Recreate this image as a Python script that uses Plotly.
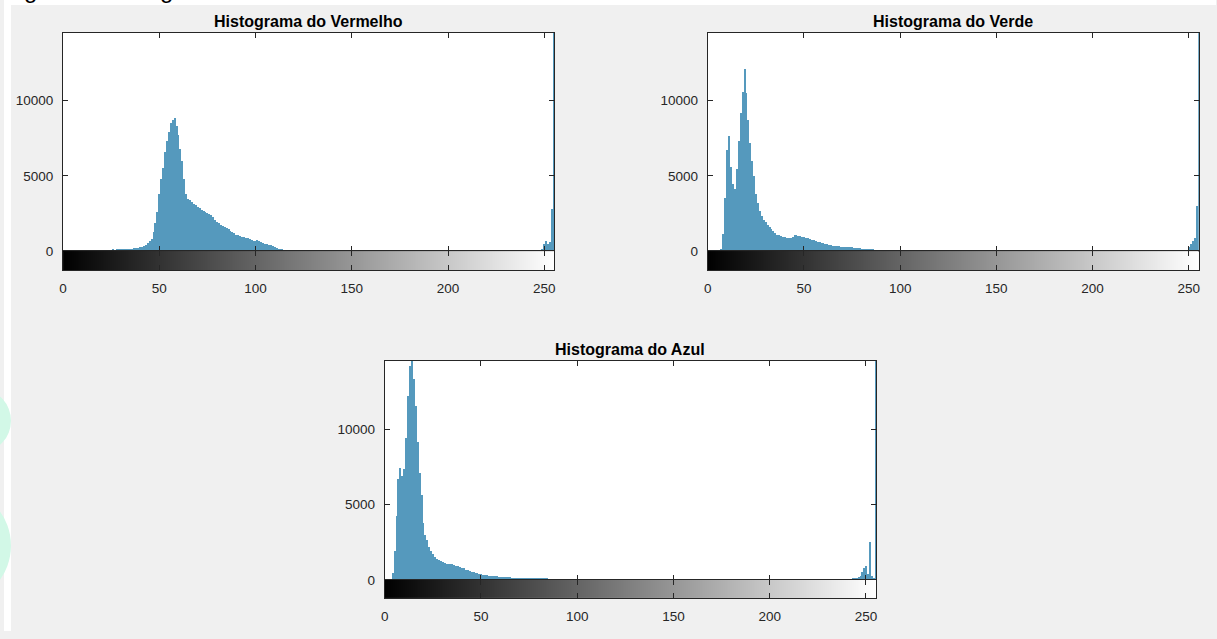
import plotly.graph_objects as go

W, H = 1217, 639

# ---------------- data ----------------
levels = list(range(256))
tick_vals = [0, 50, 100, 150, 200, 250]
y_ticks = [0, 5000, 10000]

red_counts = ([0] * 20 +
    [40, 60, 90, 100, 110, 100, 120, 110, 130, 120,          # 20-29
     140, 130, 150, 160, 150, 170, 180, 200, 210, 230,       # 30-39
     260, 300, 350, 430, 520, 650, 830, 1250, 1900, 2600,    # 40-49
     3800, 4800, 5500, 6600, 7300, 7900, 8500, 8700, 8850, 8300,  # 50-59
     7700, 6800, 6000, 4800, 3800, 3500, 3400, 3250, 3150, 3050,  # 60-69
     2950, 2850, 2750, 2650, 2600, 2550, 2500, 2400, 2300, 2100,  # 70-79
     1950, 1850, 1750, 1700, 1600, 1550, 1450, 1350, 1280, 1200,  # 80-89
     1100, 1050, 1000, 960, 930, 900, 850, 780, 720, 700,         # 90-99
     710, 720, 680, 600, 540, 500, 450, 420, 390, 330,            # 100-109
     280, 220, 170, 140, 120, 100, 90, 80, 70, 65,                # 110-119
     60, 50, 45, 40, 30, 25, 20, 15, 10] +                        # 120-128
    [0] * 120 +                                                    # 129-248
    [150, 500, 700, 450, 600, 2800, 30000])                        # 249-255

green_counts = ([0] * 7 +
    [150, 1150, 3550,                                              # 7-9
     6700, 7650, 5600, 4500, 4150, 5450, 7350, 9200, 10600, 12100,  # 10-19
     10500, 8700, 7200, 6000, 5000, 3800, 3200, 2700, 2350, 2100,   # 20-29
     1950, 1750, 1600, 1450, 1350, 1200, 1100, 1050, 1000, 950,     # 30-39
     950, 900, 880, 900, 950, 1050, 1050, 1000, 980, 950,           # 40-49
     920, 880, 850, 800, 760, 720, 680, 640, 600, 560,              # 50-59
     530, 500, 470, 430, 400, 380, 360, 340, 330, 310,              # 60-69
     300, 290, 280, 270, 260, 250, 240, 220, 200, 185,              # 70-79
     170, 160, 150, 140, 135, 130, 120, 110, 100, 95,               # 80-89
     90, 85, 80, 75, 70, 65, 60, 60, 55, 50,                        # 90-99
     45, 40, 35, 30, 25, 20, 15, 10] +                              # 100-107
    [0] * 141 +                                                      # 108-248
    [100, 280, 500, 650, 900, 3000, 30000])                          # 249-255

blue_counts = ([0] * 4 +
    [480, 1900, 4250, 6700, 7400, 6850,                             # 4-9
     7350, 9400, 12200, 14200, 14600, 13300, 11500, 9100, 7050, 5600,  # 10-19
     3750, 3000, 2650, 2200, 1900, 1700, 1500, 1400, 1300, 1220,    # 20-29
     1180, 1120, 1080, 1050, 1030, 1020, 980, 940, 900, 860,        # 30-39
     810, 760, 680, 640, 590, 545, 500, 460, 420, 390,              # 40-49
     360, 340, 330, 300, 280, 260, 250, 240, 225, 210,              # 50-59
     200, 190, 180, 170, 165, 155, 150, 140, 130, 120,              # 60-69
     115, 110, 105, 100, 95, 92, 90, 90, 88, 85,                    # 70-79
     80, 75, 70, 65, 60, 55, 50, 48, 45, 40,                        # 80-89
     35, 30, 25, 20, 15, 10] +                                      # 90-95
    [0] * 147 +                                                      # 96-242
    [90, 60, 150, 200, 260, 520, 800, 920, 370, 2500, 260, 150, 30000])  # 243-255

titles = ["Histograma do Vermelho", "Histograma do Verde", "Histograma do Azul"]
figure_caption = "Figura 3: Histogramas da Amostra 1"

# ---------------- layout helpers ----------------
def px_x(v):
    return v / W

def px_y(v):
    return 1 - v / H

# panel pixel boxes: (left, right, top, zero line, colorbar bottom)
panels = [
    (59.3, 552.7, 33.3, 254.3, 273.3),
    (706.7, 1199.7, 33.3, 254.3, 273.3),
    (382.3, 875.7, 365.7, 587.3, 605.7),
]
title_y = [22.0, 22.0, 353.5]

AX = "#262626"
FONT = "Liberation Sans, Arial, Helvetica, sans-serif"
BAR = "#5599bd"
YMAX = 14500
XR = [0, 255.25]
GRAY = "#f0f0f0"

fig = go.Figure()
layout = dict(
    width=W, height=H,
    margin=dict(l=0, r=0, t=0, b=0),
    paper_bgcolor=GRAY,
    plot_bgcolor="white",
    showlegend=False,
    bargap=0,
    font=dict(family=FONT, size=13, color=AX),
)

counts_all = [red_counts, green_counts, blue_counts]
annotations = []
for i, (counts, (l, r, t, z, cb), title) in enumerate(zip(counts_all, panels, titles)):
    mx = 2 * i + 1      # main axes index
    cx = 2 * i + 2      # colorbar axes index
    mxs = "" if mx == 1 else str(mx)
    cxs = str(cx)
    fig.add_trace(go.Bar(
        x=levels, y=counts, width=0.5,
        marker=dict(color=BAR, line=dict(width=0)),
        xaxis="x" + mxs, yaxis="y" + mxs, hoverinfo="x+y",
    ))
    fig.add_trace(go.Heatmap(
        z=[levels], x=levels, y=[0],
        colorscale=[[0, "black"], [1, "white"]], zmin=0, zmax=255,
        showscale=False, xaxis="x" + cxs, yaxis="y" + cxs, hoverinfo="skip",
    ))
    dom_x = [px_x(l), px_x(r)]
    layout["xaxis" + mxs] = dict(
        domain=dom_x, anchor="y" + mxs, range=XR,
        tickvals=tick_vals, showticklabels=False,
        ticks="inside", ticklen=5, tickcolor=AX, mirror="allticks",
        showline=True, linecolor=AX, linewidth=1, showgrid=False, zeroline=False,
        fixedrange=True,
    )
    layout["yaxis" + mxs] = dict(
        domain=[px_y(z), px_y(t)], anchor="x" + mxs, range=[0, YMAX],
        tickvals=y_ticks, ticktext=[str(v) for v in y_ticks],
        ticks="inside", ticklen=5, tickcolor=AX, mirror="allticks",
        showline=True, linecolor=AX, linewidth=1, showgrid=False, zeroline=False,
        tickfont=dict(size=13.5, color=AX, family=FONT), ticklabelstandoff=6,
        fixedrange=True,
    )
    layout["xaxis" + cxs] = dict(
        domain=dom_x, anchor="y" + cxs, range=XR,
        tickvals=tick_vals, ticktext=[str(v) for v in tick_vals],
        ticks="inside", ticklen=5, tickcolor=AX, mirror="allticks",
        showline=True, linecolor=AX, linewidth=1, showgrid=False, zeroline=False,
        tickfont=dict(size=13.5, color=AX, family=FONT), ticklabelstandoff=6,
        fixedrange=True,
    )
    layout["yaxis" + cxs] = dict(
        domain=[px_y(cb), px_y(z)], anchor="x" + cxs, range=[-0.5, 0.5],
        showticklabels=False, ticks="", showline=True, linecolor=AX, linewidth=1,
        mirror=True, showgrid=False, zeroline=False, fixedrange=True,
    )
    annotations.append(dict(
        text="<b>%s</b>" % title, x=px_x((l + r) / 2), y=px_y(title_y[i]),
        xref="paper", yref="paper", xanchor="center", yanchor="middle",
        showarrow=False, font=dict(size=16, color="black", family=FONT),
    ))

# document caption above the figure (mostly cropped at the top edge)
annotations.append(dict(
    text=figure_caption, x=px_x(-2), y=px_y(5), xref="paper", yref="paper",
    xanchor="left", yanchor="bottom", showarrow=False,
    font=dict(size=24, color="black", family=FONT),
))
# the figure image covers the caption's descenders
annotations.append(dict(
    text=" ", x=px_x(7), y=px_y(5), xref="paper", yref="paper",
    xanchor="left", yanchor="top", showarrow=False, width=420, height=7,
    bgcolor=GRAY, borderpad=0, font=dict(size=4),
))
layout["annotations"] = annotations

layout["shapes"] = [
    dict(type="rect", xref="paper", yref="paper", x0=0, x1=1, y0=px_y(5), y1=1,
         fillcolor="white", line=dict(width=0), layer="above"),
    dict(type="rect", xref="paper", yref="paper", x0=0, x1=px_x(7), y0=0, y1=1,
         fillcolor="white", line=dict(width=0), layer="above"),
    dict(type="circle", xref="paper", yref="paper", x0=px_x(-50), x1=px_x(7),
         y0=px_y(457), y1=px_y(395), fillcolor="#d2f8e7", line=dict(width=0), layer="above"),
    dict(type="circle", xref="paper", yref="paper", x0=px_x(-90), x1=px_x(7),
         y0=px_y(607), y1=px_y(498), fillcolor="#d2f8e7", line=dict(width=0), layer="above"),
]

fig.update_layout(**layout)
fig.write_html(
    "out.html",
    config={"displayModeBar": False},
    post_script="document.body.style.margin='0';document.body.style.overflow='hidden';",
)
